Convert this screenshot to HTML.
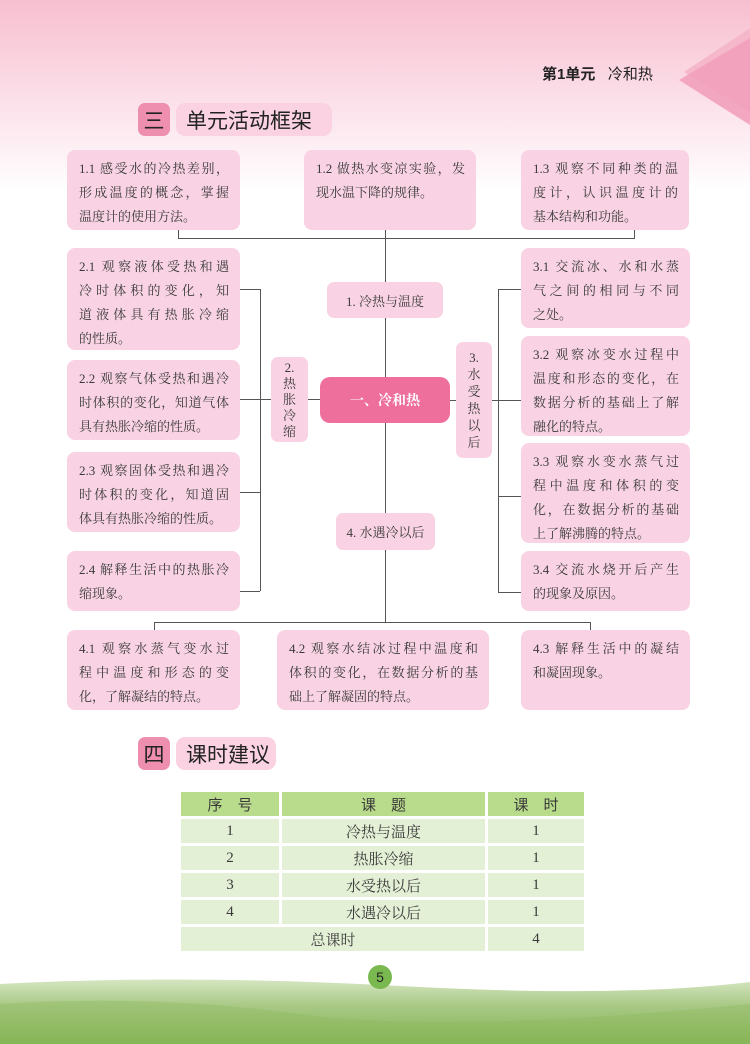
<!DOCTYPE html>
<html><head><meta charset="utf-8"><style>
*{margin:0;padding:0;box-sizing:border-box}
body{width:750px;height:1044px;position:relative;overflow:hidden;background:#fff;font-family:"Liberation Serif","Noto Serif CJK SC",serif;color:#3a3a3a}
.top{position:absolute;left:0;top:0;width:750px;height:190px;background:linear-gradient(#f7bfd0 0%,#fbdbe5 45%,#fdeef3 75%,#fff 100%)}
.b{position:absolute;background:#f9d3e3;border-radius:8px;font-size:13px;line-height:24px;padding:7px 11px 0 12px}
.b div{text-align:justify;text-align-last:justify;white-space:nowrap}
.b div.l{text-align-last:left}
.ln{position:absolute;background:#555}
.h{position:absolute;height:1px}
.v{position:absolute;width:1px}
.c{position:absolute;background:#f9d3e3;border-radius:7px;font-size:13px;display:flex;align-items:center;justify-content:center;text-align:center}
.sq{position:absolute;background:#ee8fb0;border-radius:7px;font-family:"Liberation Sans","Noto Sans CJK SC",sans-serif;font-size:21px;color:#222;display:flex;align-items:center;justify-content:center}
.lb{position:absolute;background:#fad2e1;border-radius:9px;font-family:"Liberation Sans","Noto Sans CJK SC",sans-serif;font-size:21px;color:#222;display:flex;align-items:center;padding-left:10px}
table{position:absolute;left:178px;top:789px;border-collapse:separate;border-spacing:3px;font-size:15px}
td{background:#e4f0d6;text-align:center;height:24px;padding:0}
th{background:#b9dc8c;height:24px;font-family:"Liberation Sans","Noto Sans CJK SC",sans-serif;font-weight:normal;font-size:15px}
</style></head><body>
<div class="top"></div>
<svg style="position:absolute;left:0;top:0" width="750" height="200">
<polygon points="684,72 750,28 750,112" fill="#f5b8cb"/>
<polygon points="679,80 750,38 750,125" fill="#f2a0bb" opacity="0.9"/>
</svg>
<div style="position:absolute;left:542px;top:63px;font-family:'Liberation Sans','Noto Sans CJK SC',sans-serif;font-size:15px;color:#222"><b>第1单元</b>&nbsp;&nbsp;&nbsp;冷和热</div>

<div class="sq" style="left:138px;top:103px;width:32px;height:33px">三</div>
<div class="lb" style="left:176px;top:103px;width:156px;height:33px">单元活动框架</div>

<div class="ln h" style="left:178px;top:238px;width:457px"></div>
<div class="ln v" style="left:178px;top:230px;height:8px"></div>
<div class="ln v" style="left:385px;top:230px;height:148px"></div>
<div class="ln v" style="left:634px;top:230px;height:8px"></div>
<div class="ln v" style="left:385px;top:423px;height:199px"></div>
<div class="ln h" style="left:154px;top:622px;width:436px"></div>
<div class="ln v" style="left:154px;top:622px;height:8px"></div>
<div class="ln v" style="left:590px;top:622px;height:8px"></div>
<div class="ln v" style="left:260px;top:289px;height:302px"></div>
<div class="ln h" style="left:240px;top:289px;width:20px"></div>
<div class="ln h" style="left:240px;top:399px;width:80px"></div>
<div class="ln h" style="left:240px;top:492px;width:20px"></div>
<div class="ln h" style="left:240px;top:591px;width:20px"></div>
<div class="ln v" style="left:498px;top:289px;height:303px"></div>
<div class="ln h" style="left:498px;top:289px;width:23px"></div>
<div class="ln h" style="left:450px;top:400px;width:71px"></div>
<div class="ln h" style="left:498px;top:496px;width:23px"></div>
<div class="ln h" style="left:498px;top:592px;width:23px"></div>

<div class="b" style="left:67px;top:150px;width:173px;height:80px"><div>1.1 感受水的冷热差别，</div><div>形成温度的概念，掌握</div><div class="l">温度计的使用方法。</div></div>
<div class="b" style="left:304px;top:150px;width:172px;height:80px"><div>1.2 做热水变凉实验，发</div><div class="l">现水温下降的规律。</div></div>
<div class="b" style="left:521px;top:150px;width:168px;height:80px"><div>1.3 观察不同种类的温</div><div>度计，认识温度计的</div><div class="l">基本结构和功能。</div></div>

<div class="b" style="left:67px;top:248px;width:173px;height:102px"><div>2.1 观察液体受热和遇</div><div>冷时体积的变化，知</div><div>道液体具有热胀冷缩</div><div class="l">的性质。</div></div>
<div class="b" style="left:67px;top:360px;width:173px;height:80px"><div>2.2 观察气体受热和遇冷</div><div>时体积的变化，知道气体</div><div class="l">具有热胀冷缩的性质。</div></div>
<div class="b" style="left:67px;top:452px;width:173px;height:80px"><div>2.3 观察固体受热和遇冷</div><div>时体积的变化，知道固</div><div class="l">体具有热胀冷缩的性质。</div></div>
<div class="b" style="left:67px;top:551px;width:173px;height:60px"><div>2.4 解释生活中的热胀冷</div><div class="l">缩现象。</div></div>

<div class="b" style="left:521px;top:248px;width:169px;height:80px"><div>3.1 交流冰、水和水蒸</div><div>气之间的相同与不同</div><div class="l">之处。</div></div>
<div class="b" style="left:521px;top:336px;width:169px;height:100px"><div>3.2 观察冰变水过程中</div><div>温度和形态的变化，在</div><div>数据分析的基础上了解</div><div class="l">融化的特点。</div></div>
<div class="b" style="left:521px;top:443px;width:169px;height:100px"><div>3.3 观察水变水蒸气过</div><div>程中温度和体积的变</div><div>化，在数据分析的基础</div><div class="l">上了解沸腾的特点。</div></div>
<div class="b" style="left:521px;top:551px;width:169px;height:60px"><div>3.4 交流水烧开后产生</div><div class="l">的现象及原因。</div></div>

<div class="b" style="left:67px;top:630px;width:173px;height:80px"><div>4.1 观察水蒸气变水过</div><div>程中温度和形态的变</div><div class="l">化，了解凝结的特点。</div></div>
<div class="b" style="left:277px;top:630px;width:212px;height:80px"><div>4.2 观察水结冰过程中温度和</div><div>体积的变化，在数据分析的基</div><div class="l">础上了解凝固的特点。</div></div>
<div class="b" style="left:521px;top:630px;width:169px;height:80px"><div>4.3 解释生活中的凝结</div><div class="l">和凝固现象。</div></div>

<div class="c" style="left:327px;top:282px;width:116px;height:36px">1. 冷热与温度</div>
<div class="c" style="left:271px;top:357px;width:37px;height:85px;line-height:16px;font-size:13px">2.<br>热<br>胀<br>冷<br>缩</div>
<div class="c" style="left:456px;top:342px;width:36px;height:116px;line-height:17px;font-size:13px">3.<br>水<br>受<br>热<br>以<br>后</div>
<div class="c" style="left:320px;top:377px;width:130px;height:46px;background:#ee6e9c;color:#fff;border-radius:10px;font-size:14px;font-weight:bold">一、冷和热</div>
<div class="c" style="left:336px;top:513px;width:99px;height:37px">4. 水遇冷以后</div>

<div class="sq" style="left:138px;top:737px;width:32px;height:33px">四</div>
<div class="lb" style="left:176px;top:737px;width:100px;height:33px">课时建议</div>

<table>
<tr><th style="width:98px">序　号</th><th style="width:203px">课　题</th><th style="width:96px">课　时</th></tr>
<tr><td>1</td><td>冷热与温度</td><td>1</td></tr>
<tr><td>2</td><td>热胀冷缩</td><td>1</td></tr>
<tr><td>3</td><td>水受热以后</td><td>1</td></tr>
<tr><td>4</td><td>水遇冷以后</td><td>1</td></tr>
<tr><td colspan="2">总课时</td><td>4</td></tr>
</table>

<svg style="position:absolute;left:0;top:960px" width="750" height="84">
<defs><linearGradient id="g" x1="0" y1="0" x2="0" y2="1"><stop offset="0" stop-color="#d6e6c2"/><stop offset="0.4" stop-color="#a9c986"/><stop offset="1" stop-color="#84b352"/></linearGradient></defs>
<path d="M0,24 Q180,14 400,26 T750,22 L750,84 L0,84Z" fill="url(#g)"/>
<path d="M0,44 Q150,34 300,54 T750,44 L750,84 L0,84Z" fill="#8fba60" opacity="0.4"/>
</svg>
<div style="position:absolute;left:368px;top:965px;width:24px;height:24px;border-radius:50%;background:#7ab850;color:#222;font-family:'Liberation Sans',sans-serif;font-size:14px;display:flex;align-items:center;justify-content:center">5</div>
</body></html>
